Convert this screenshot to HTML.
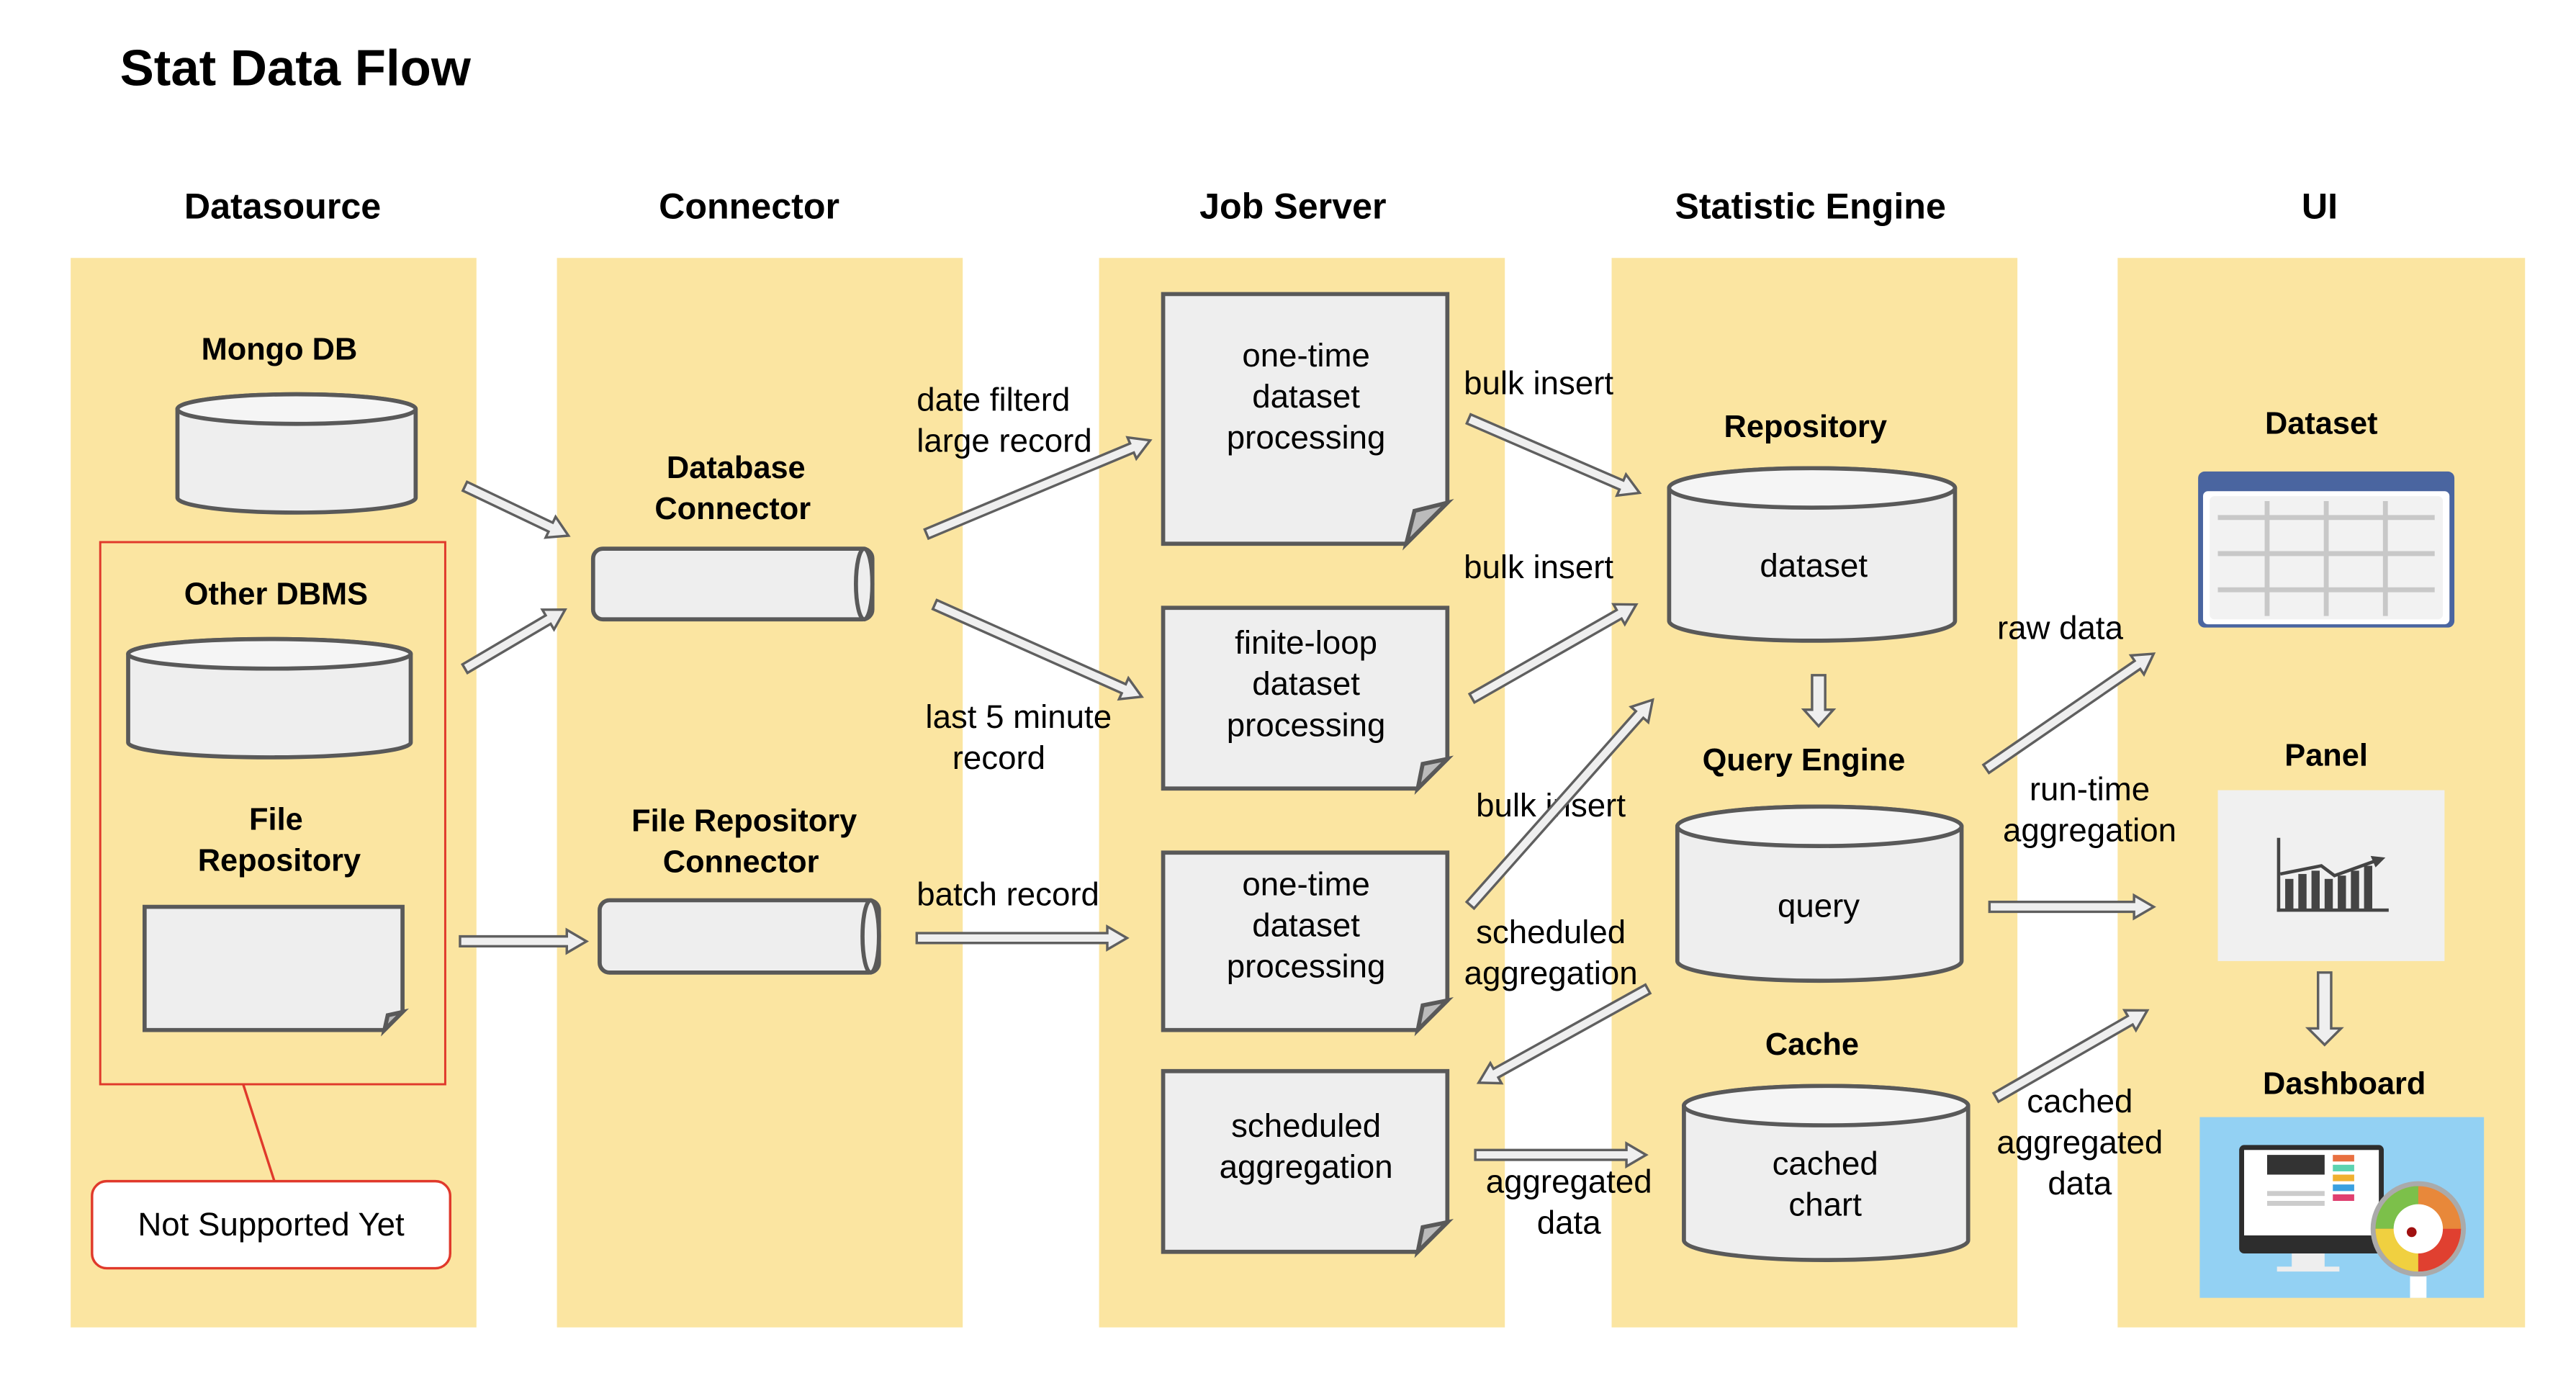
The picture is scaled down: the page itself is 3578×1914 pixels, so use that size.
<!DOCTYPE html>
<html><head><meta charset="utf-8"><style>
html,body{margin:0;padding:0;background:#fff;}
svg{display:block}
text{font-family:"Liberation Sans",Arial,sans-serif;fill:#000}
.b{font-weight:bold}
</style></head><body>
<svg width="3578" height="1914" viewBox="0 0 1568 838.8" xmlns="http://www.w3.org/2000/svg">
<g fill="#fbe5a1">
<rect x="43" y="157" width="247" height="651"/>
<rect x="339" y="157" width="247" height="651"/>
<rect x="669" y="157" width="247" height="651"/>
<rect x="981" y="157" width="247" height="651"/>
<rect x="1289" y="157" width="248" height="651"/>
</g>
<text x="73" y="52" font-size="31" class="b">Stat Data Flow</text>
<g font-size="22" class="b" text-anchor="middle">
<text x="172" y="133">Datasource</text>
<text x="456" y="133">Connector</text>
<text x="787" y="133">Job Server</text>
<text x="1102" y="133">Statistic Engine</text>
<text x="1412" y="133">UI</text>
</g>
<g font-size="19" class="b" text-anchor="middle">
<text x="170" y="219">Mongo DB</text>
<text x="168" y="368">Other DBMS</text>
<text x="168" y="505">File</text>
<text x="170" y="530">Repository</text>
<text x="448" y="291">Database</text>
<text x="446" y="316">Connector</text>
<text x="453" y="506">File Repository</text>
<text x="451" y="531">Connector</text>
<text x="1099" y="266">Repository</text>
<text x="1098" y="469">Query Engine</text>
<text x="1103" y="642">Cache</text>
<text x="1413" y="264">Dataset</text>
<text x="1416" y="466">Panel</text>
<text x="1427" y="666">Dashboard</text>
</g>
<g fill="#eeeeee" stroke="#595959" stroke-width="2.5">
<path d="M108,249 A72.5,9 0 0 1 253,249 L253,303 A72.5,9 0 0 1 108,303 Z"/>
<ellipse cx="180.5" cy="249" rx="72.5" ry="9" fill="#f5f5f5"/>
<path d="M78,398 A86,9 0 0 1 250,398 L250,452 A86,9 0 0 1 78,452 Z"/>
<ellipse cx="164" cy="398" rx="86" ry="9" fill="#f5f5f5"/>
<path d="M1016,297 A87,12 0 0 1 1190,297 L1190,378 A87,12 0 0 1 1016,378 Z"/>
<ellipse cx="1103" cy="297" rx="87" ry="12" fill="#f5f5f5"/>
<path d="M1021,503 A86.5,12 0 0 1 1194,503 L1194,585 A86.5,12 0 0 1 1021,585 Z"/>
<ellipse cx="1107.5" cy="503" rx="86.5" ry="12" fill="#f5f5f5"/>
<path d="M1025,673 A86.5,12 0 0 1 1198,673 L1198,755 A86.5,12 0 0 1 1025,755 Z"/>
<ellipse cx="1111.5" cy="673" rx="86.5" ry="12" fill="#f5f5f5"/>
<rect x="361" y="334" width="170" height="43" rx="6"/>
<ellipse cx="526" cy="355.5" rx="5" ry="21.5"/>
<rect x="365" y="548" width="170" height="44" rx="6"/>
<ellipse cx="530" cy="570" rx="5" ry="22"/>
<path d="M88,552 L245,552 L245,616 L234,627 L88,627 Z"/>
<path d="M245,616 L234,627 L236,618 Z" fill="#bbb"/>
<path d="M708,179 L881,179 L881,306 L856,331 L708,331 Z"/>
<path d="M881,306 L856,331 L861,311 Z" fill="#bbb"/>
<path d="M708,370 L881,370 L881,462 L863,480 L708,480 Z"/>
<path d="M881,462 L863,480 L866,465 Z" fill="#bbb"/>
<path d="M708,519 L881,519 L881,609 L863,627 L708,627 Z"/>
<path d="M881,609 L863,627 L866,612 Z" fill="#bbb"/>
<path d="M708,652 L881,652 L881,744 L863,762 L708,762 Z"/>
<path d="M881,744 L863,762 L866,747 Z" fill="#bbb"/>
</g>
<rect x="61" y="330" width="210" height="330" fill="none" stroke="#e0392b" stroke-width="1.3"/>
<line x1="148" y1="660" x2="167" y2="719" stroke="#e0392b" stroke-width="1.5"/>
<rect x="56" y="719" width="218" height="53" rx="9" fill="#fff" stroke="#e0392b" stroke-width="1.5"/>
<g font-size="20" text-anchor="middle">
<text x="165" y="752">Not Supported Yet</text>
<text x="795" y="223">one-time</text><text x="795" y="248">dataset</text><text x="795" y="273">processing</text>
<text x="795" y="398">finite-loop</text><text x="795" y="423">dataset</text><text x="795" y="448">processing</text>
<text x="795" y="545">one-time</text><text x="795" y="570">dataset</text><text x="795" y="595">processing</text>
<text x="795" y="692">scheduled</text><text x="795" y="717">aggregation</text>
<text x="1104" y="351">dataset</text>
<text x="1107" y="558">query</text>
<text x="1111" y="715">cached</text><text x="1111" y="740">chart</text>
<text x="620" y="443">last 5 minute</text><text x="608" y="468">record</text>
<text x="944" y="497">bulk insert</text>
<text x="944" y="574">scheduled</text><text x="944" y="599">aggregation</text>
<text x="955" y="726">aggregated</text><text x="955" y="751">data</text>
<text x="1254" y="389">raw data</text>
<text x="1272" y="487">run-time</text><text x="1272" y="512">aggregation</text>
<text x="1266" y="677">cached</text><text x="1266" y="702">aggregated</text><text x="1266" y="727">data</text>
</g>
<g font-size="20">
<text x="558" y="250">date filterd</text><text x="558" y="275">large record</text>
<text x="558" y="551">batch record</text>
<text x="891" y="240">bulk insert</text>
<text x="891" y="352">bulk insert</text>
</g>
<g fill="#efefef" stroke="#5f5f5f" stroke-width="1.5" stroke-linejoin="miter">
<path transform="translate(283,296) rotate(25.5)" d="M0,-3 L57.8,-3 L57.8,-7 L69.8,0 L57.8,7 L57.8,3 L0,3 Z"/>
<path transform="translate(283,407) rotate(-30.5)" d="M0,-3 L58.8,-3 L58.8,-7 L70.8,0 L58.8,7 L58.8,3 L0,3 Z"/>
<path transform="translate(280,573)" d="M0,-3 L65,-3 L65,-7 L77,0 L65,7 L65,3 L0,3 Z"/>
<path transform="translate(564,325) rotate(-22.7)" d="M0,-3 L135.5,-3 L135.5,-7 L147.5,0 L135.5,7 L135.5,3 L0,3 Z"/>
<path transform="translate(569,368) rotate(24)" d="M0,-3 L125.9,-3 L125.9,-7 L137.9,0 L125.9,7 L125.9,3 L0,3 Z"/>
<path transform="translate(558,571)" d="M0,-3 L116,-3 L116,-7 L128,0 L116,7 L116,3 L0,3 Z"/>
<path transform="translate(894,255) rotate(23.4)" d="M0,-3 L101.3,-3 L101.3,-7 L113.3,0 L101.3,7 L101.3,3 L0,3 Z"/>
<path transform="translate(896,425) rotate(-29.7)" d="M0,-3 L103.1,-3 L103.1,-7 L115.1,0 L103.1,7 L103.1,3 L0,3 Z"/>
<path transform="translate(895,551) rotate(-48.4)" d="M0,-3 L155.2,-3 L155.2,-7 L167.2,0 L155.2,7 L155.2,3 L0,3 Z"/>
<path transform="translate(1003,602) rotate(151)" d="M0,-3 L105.7,-3 L105.7,-7 L117.7,0 L105.7,7 L105.7,3 L0,3 Z"/>
<path transform="translate(898,703)" d="M0,-3 L92,-3 L92,-7 L104,0 L92,7 L92,3 L0,3 Z"/>
<path transform="translate(1209,468) rotate(-34.5)" d="M0,-3 L111.7,-3 L111.7,-7 L123.7,0 L111.7,7 L111.7,3 L0,3 Z"/>
<path transform="translate(1211,552)" d="M0,-3 L88,-3 L88,-7 L100,0 L88,7 L88,3 L0,3 Z"/>
<path transform="translate(1215,668) rotate(-29.9)" d="M0,-3 L94.2,-3 L94.2,-7 L106.2,0 L94.2,7 L94.2,3 L0,3 Z"/>
<path transform="translate(1107,411) rotate(90)" d="M0,-4 L21,-4 L21,-9 L31,0 L21,9 L21,4 L0,4 Z"/>
<path transform="translate(1415,592) rotate(90)" d="M0,-4 L34,-4 L34,-10 L44,0 L34,10 L34,4 L0,4 Z"/>
</g>
<rect x="1338" y="287" width="156" height="95" rx="4" fill="#4a65a0"/>
<rect x="1341" y="299" width="150" height="81" rx="3" fill="#fff"/>
<rect x="1345" y="302" width="142" height="75" rx="3" fill="#f2f2f2"/>
<g stroke="#c8c8c8" stroke-width="3">
<line x1="1350" y1="315" x2="1482" y2="315"/><line x1="1350" y1="337" x2="1482" y2="337"/><line x1="1350" y1="359" x2="1482" y2="359"/>
<line x1="1380" y1="305" x2="1380" y2="375"/><line x1="1416" y1="305" x2="1416" y2="375"/><line x1="1452" y1="305" x2="1452" y2="375"/>
</g>
<rect x="1350" y="481" width="138" height="104" fill="#f0f0f0"/>
<g fill="#444"><rect x="1386" y="510" width="2" height="45"/><rect x="1386" y="553" width="68" height="2"/>
<rect x="1391" y="535" width="5" height="19"/><rect x="1399" y="532" width="5" height="22"/><rect x="1407" y="530" width="5" height="24"/><rect x="1415" y="535" width="5" height="19"/><rect x="1423" y="533" width="5" height="21"/><rect x="1431" y="530" width="5" height="24"/><rect x="1439" y="527" width="5" height="27"/>
<polyline points="1388,532 1413,527 1421,533 1446,524" fill="none" stroke="#444" stroke-width="2"/><path d="M1443,521 L1452,522 L1446,528 Z"/></g>
<rect x="1339" y="680" width="173" height="110" fill="#93d1f3"/>
<rect x="1363" y="697" width="88" height="66" rx="3" fill="#2d2d2d"/>
<rect x="1366" y="700" width="82" height="52" fill="#fff"/>
<rect x="1380" y="703" width="35" height="12" fill="#333"/>
<rect x="1420" y="703" width="13" height="4" fill="#e87040"/><rect x="1420" y="709" width="13" height="4" fill="#5cd3b0"/><rect x="1420" y="715" width="13" height="4" fill="#f0b030"/><rect x="1420" y="721" width="13" height="4" fill="#3aa0e0"/><rect x="1420" y="727" width="13" height="4" fill="#e04070"/>
<rect x="1380" y="725" width="35" height="3" fill="#ccc"/><rect x="1380" y="731" width="35" height="3" fill="#ccc"/>
<rect x="1395" y="763" width="20" height="9" fill="#eee"/><rect x="1386" y="771" width="38" height="3" fill="#eee"/>
<circle cx="1472" cy="748" r="29" fill="#aaa"/><circle cx="1472" cy="748" r="26" fill="#e8883a"/>
<path d="M1472,748 L1446,748 A26,26 0 0 1 1472,722 Z" fill="#7cc04a"/><path d="M1472,748 L1472,774 A26,26 0 0 1 1446,748 Z" fill="#f0d040"/><path d="M1472,748 L1498,748 A26,26 0 0 1 1472,774 Z" fill="#e04030"/>
<circle cx="1472" cy="748" r="15" fill="#fff"/><circle cx="1468" cy="750" r="3" fill="#a01010"/>
<rect x="1467" y="777" width="10" height="13" fill="#fff"/>
</svg>
</body></html>
